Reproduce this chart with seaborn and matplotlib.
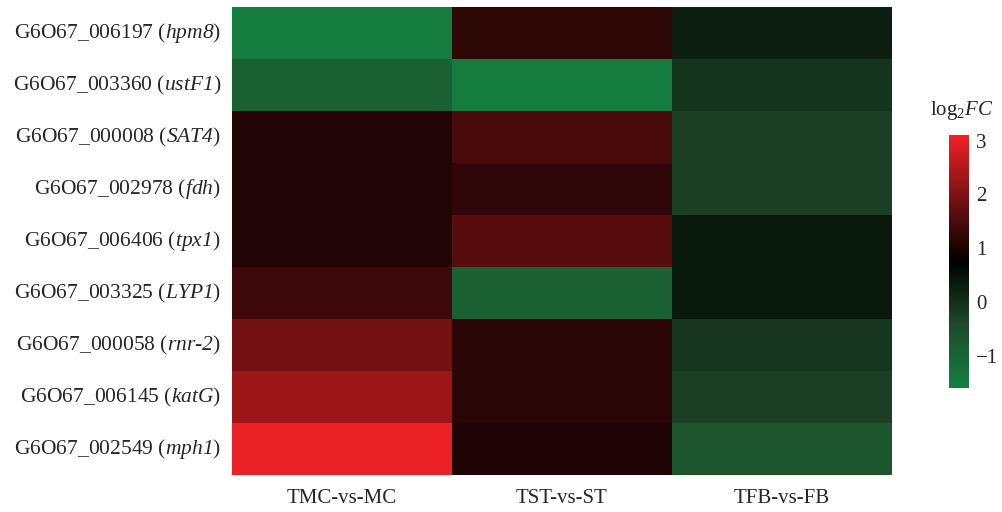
import numpy as np
import pandas as pd
import seaborn as sns
import matplotlib.pyplot as plt
from matplotlib.colors import LinearSegmentedColormap

sns.set_theme(style="white")
plt.rcParams["font.family"] = ["Liberation Serif", "DejaVu Serif"]
plt.rcParams["mathtext.fontset"] = "custom"
# gene symbols are fully italic, digits included
plt.rcParams["mathtext.rm"] = "Liberation Serif:italic"
plt.rcParams["mathtext.it"] = "Liberation Serif:italic"
plt.rcParams["mathtext.sf"] = "Liberation Serif"

gene_ids = ["G6O67_006197", "G6O67_003360", "G6O67_000008", "G6O67_002978",
            "G6O67_006406", "G6O67_003325", "G6O67_000058", "G6O67_006145",
            "G6O67_002549"]
gene_names = ["hpm8", "ustF1", "SAT4", "fdh", "tpx1", "LYP1", "rnr-2", "katG", "mph1"]
comparisons = ["TMC-vs-MC", "TST-vs-ST", "TFB-vs-FB"]

tmc_vs_mc = [-1.50, -0.90, 1.08, 1.08, 1.08, 1.34, 1.88, 2.28, 3.05]
tst_vs_st = [1.20, -1.50, 1.45, 1.22, 1.60, -0.90, 1.17, 1.17, 1.05]
tfb_vs_fb = [0.28, -0.07, -0.25, -0.25, 0.35, 0.35, -0.10, -0.25, -0.66]


def italic_name(name):
    # italicise gene symbol, keep hyphen as plain text
    parts = name.split("-")
    return "-".join(r"$\mathit{" + p + "}$" for p in parts)


row_labels = [f"{g} ({italic_name(n)})" for g, n in zip(gene_ids, gene_names)]

df = pd.DataFrame({"TMC-vs-MC": tmc_vs_mc, "TST-vs-ST": tst_vs_st,
                   "TFB-vs-FB": tfb_vs_fb}, index=row_labels)[comparisons]

cmap = LinearSegmentedColormap.from_list(
    "gkr", [(0.0, "#138040"), (0.25, "#1E4A2A"), (0.5, "#000000"),
            (1.0, "#EE2226")])

fig = plt.figure(figsize=(10.02, 5.12), dpi=100)
ax = fig.add_axes([0.2315, 0.0723, 0.6587, 0.9140])
cax = fig.add_axes([0.947, 0.242, 0.020, 0.494])

sns.heatmap(df, ax=ax, cmap=cmap, vmin=-1.6, vmax=3.1, cbar_ax=cax,
            cbar_kws={"ticks": [-1, 0, 1, 2, 3]}, linewidths=0)

ax.tick_params(axis="y", length=0, labelsize=15.5, pad=8)
ax.tick_params(axis="x", length=0, labelsize=15, pad=10)
ax.set_yticklabels(ax.get_yticklabels(), rotation=0)
ax.set_xticklabels(comparisons, rotation=0)
ax.set_xlabel("")
ax.set_ylabel("")

cax.tick_params(length=0, labelsize=15, pad=5)
cax.set_yticklabels(["\u22121", "0", "1", "2", "3"])
ax.collections[0].colorbar.outline.set_visible(False)
fig.text(0.960, 0.762, r"log$_{\mathsf{2}}FC$", ha="center", va="bottom",
         fontsize=15)

fig.savefig("out.png", dpi=100)
